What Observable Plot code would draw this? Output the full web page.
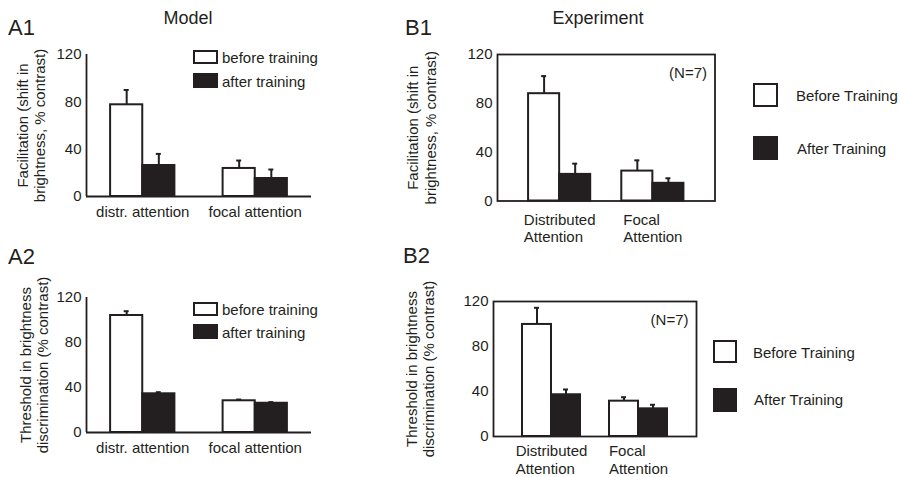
<!DOCTYPE html>
<html><head><meta charset="utf-8">
<script src="https://cdn.jsdelivr.net/npm/d3@7"></script>
<script src="https://cdn.jsdelivr.net/npm/@observablehq/plot@0.6"></script>
<style>
body{margin:0;background:#fff;}
#fig{position:relative;width:900px;height:477px;overflow:hidden;font-family:"Liberation Sans",Arial,Helvetica,sans-serif;color:#231f20;background:#fff;}
#fig svg{position:absolute;}
.t{position:absolute;white-space:nowrap;line-height:1;transform:translateY(-50%);z-index:2;}
.box{position:absolute;box-sizing:border-box;border:2px solid #231f20;z-index:2;}
</style></head><body><div id="fig"></div>
<script>
// ---- data ----
const conditions = ["before training", "after training"];
const groupsModel = ["distr. attention", "focal attention"];
const groupsExp = ["Distributed\nAttention", "Focal\nAttention"];
const yTicks = [0, 40, 80, 120];

const a1Before = [77.5, 23.7];  const a1BeforeErr = [12.5, 6.7];
const a1After  = [26.2, 15.2];  const a1AfterErr  = [9.8, 7.6];
const a2Before = [104, 28.2];   const a2BeforeErr = [3.8, 1.1];
const a2After  = [34.4, 26.0];  const a2AfterErr  = [1.4, 1.0];
const b1Before = [87.9, 24.5];  const b1BeforeErr = [14.4, 8.8];
const b1After  = [21.8, 14.5];  const b1AfterErr  = [8.8, 4.1];
const b2Before = [99.6, 31.4];  const b2BeforeErr = [14.8, 3.5];
const b2After  = [37.1, 24.6];  const b2AfterErr  = [4.7, 3.6];

const labelFacil = "Facilitation (shift in\nbrightness, % contrast)";
const labelThresh = "Threshold in brightness\ndiscrimination (% contrast)";

// ---- rendering ----
const dark = "#231f20";
const FONT = '"Liberation Sans", Arial, Helvetica, sans-serif';
const fig = document.getElementById("fig");
const ctx = document.createElement("canvas").getContext("2d");
ctx.font = "15px " + FONT;
const blockWidth = s => Math.max(...s.split("\n").map(l => ctx.measureText(l).width));

function panel(c) {
  const rows = [];
  c.groups.forEach((g, gi) => {
    [[c.before, c.beforeErr], [c.after, c.afterErr]].forEach(([v, e], ci) => {
      rows.push({group: g, cond: conditions[ci], gi, ci, value: v[gi], err: e[gi]});
    });
  });
  const x0 = d => c.layout.start + d.gi * c.layout.step + d.ci;
  const xc = d => x0(d) + 0.5;
  const gc = i => c.layout.start + i * c.layout.step + 1;
  const marks = [];
  if (c.framed) marks.push(Plot.frame({stroke: dark, strokeWidth: 1.8}));
  marks.push(
    Plot.rect(rows, {x1: x0, x2: d => x0(d) + 1, y1: 0, y2: "value", fill: "cond", stroke: dark, strokeWidth: 2}),
    Plot.ruleX(rows, {x: xc, y1: "value", y2: d => d.value + d.err, stroke: dark, strokeWidth: 2}),
    Plot.ruleY(rows, {x1: xc, x2: xc, y: d => d.value + d.err, stroke: dark, strokeWidth: 2, insetLeft: -2.5, insetRight: -2.5})
  );
  if (!c.framed) {
    marks.push(Plot.ruleY([0], {stroke: dark, strokeWidth: 1.8}));
    marks.push(Plot.ruleX([0], {stroke: dark, strokeWidth: 1.8}));
    marks.push(Plot.text(c.groups, {x: (d, i) => gc(i), frameAnchor: "bottom", lineAnchor: "middle", textAnchor: "middle", dy: 16, fontSize: 15, fill: dark}));
  } else {
    c.groups.forEach((g, i) => {
      marks.push(Plot.text([g], {x: () => gc(i), frameAnchor: "bottom", lineAnchor: "middle", textAnchor: "start",
        dx: -blockWidth(g) / 2, dy: c.labelDy, lineHeight: 1.17, fontSize: 15, fill: dark}));
    });
    marks.push(Plot.text(["(N=7)"], {frameAnchor: "top-right", textAnchor: "end", lineAnchor: "middle", dx: -8, dy: 18.5, fontSize: 15, fill: dark}));
  }
  marks.push(Plot.text([c.ylabel], {frameAnchor: "left", rotate: -90, textAnchor: "middle", lineAnchor: "middle",
    lineHeight: 1.17, dx: c.ylabelDx, fontSize: 15, fill: dark}));

  const svg = Plot.plot({
    width: c.width, height: c.height,
    marginLeft: c.m[0], marginRight: c.m[1], marginTop: c.m[2], marginBottom: c.m[3],
    style: {background: "transparent", fontFamily: FONT, fontSize: "15px", color: dark, overflow: "visible"},
    x: {domain: [0, 7], axis: null},
    y: {domain: [0, 120], ticks: yTicks, tickSize: 0, tickPadding: 5, label: null},
    color: {domain: conditions, range: ["white", dark]},
    marks
  });
  svg.style.left = c.left + "px";
  svg.style.top = c.top + "px";
  fig.appendChild(svg);
}

panel({left: 0, top: 0, width: 390, height: 240, m: [86, 79, 54, 44], layout: {start: 0.75, step: 3.5},
  groups: groupsModel, before: a1Before, beforeErr: a1BeforeErr, after: a1After, afterErr: a1AfterErr,
  framed: false, ylabel: labelFacil, ylabelDx: -55.5});
panel({left: 0, top: 240, width: 390, height: 237, m: [86, 79, 57, 45], layout: {start: 0.75, step: 3.5},
  groups: groupsModel, before: a2Before, beforeErr: a2BeforeErr, after: a2After, afterErr: a2AfterErr,
  framed: false, ylabel: labelThresh, ylabelDx: -52.5});
panel({left: 390, top: 0, width: 510, height: 240, m: [107, 185.5, 54, 39.5], layout: {start: 1, step: 3},
  groups: groupsExp, before: b1Before, beforeErr: b1BeforeErr, after: b1After, afterErr: b1AfterErr,
  framed: true, ylabel: labelFacil, ylabelDx: -76, labelDy: 27});
panel({left: 390, top: 240, width: 510, height: 237, m: [103, 204, 61, 41], layout: {start: 1, step: 3},
  groups: groupsExp, before: b2Before, beforeErr: b2BeforeErr, after: b2After, afterErr: b2AfterErr,
  framed: true, ylabel: labelThresh, ylabelDx: -73.5, labelDy: 23});

// ---- titles, panel letters, legends ----
function txt(s, x, y, size, center) {
  const d = document.createElement("div");
  d.className = "t"; d.textContent = s;
  d.style.left = x + "px"; d.style.top = y + "px"; d.style.fontSize = size + "px";
  if (center) d.style.transform = "translate(-50%,-50%)";
  fig.appendChild(d);
}
function box(x, y, w, h, filled) {
  const d = document.createElement("div");
  d.className = "box";
  Object.assign(d.style, {left: x + "px", top: y + "px", width: w + "px", height: h + "px", background: filled ? dark : "white"});
  fig.appendChild(d);
}
txt("Model", 188, 18, 18, true);
txt("Experiment", 598, 18, 18, true);
txt("A1", 8, 28, 22); txt("A2", 8, 257, 22);
txt("B1", 405, 28, 22); txt("B2", 403, 256, 22);

const legendModel = ["before training", "after training"];
const legendExp = ["Before Training", "After Training"];
box(193, 50, 25, 14, false); box(193, 73, 25, 15, true);
txt(legendModel[0], 222, 57, 15); txt(legendModel[1], 222, 81, 15);
box(193, 302, 25, 14, false); box(193, 324, 25, 15, true);
txt(legendModel[0], 222, 309, 15); txt(legendModel[1], 222, 332, 15);
box(753, 83, 25, 24, false); box(753, 136, 25, 24, true);
txt(legendExp[0], 796, 95, 15); txt(legendExp[1], 797, 148, 15);
box(713, 340, 24, 23, false); box(713, 388, 24, 24, true);
txt(legendExp[0], 753, 352, 15); txt(legendExp[1], 754, 399, 15);
</script></body></html>
